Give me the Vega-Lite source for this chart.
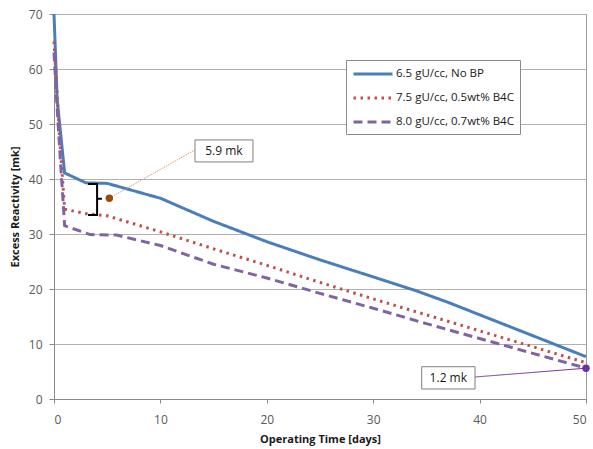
{
  "$schema": "https://vega.github.io/schema/vega-lite/v6.json",
  "width": 532,
  "height": 385,
  "autosize": "none",
  "padding": {"left": 54, "top": 14, "right": 7, "bottom": 50},
  "background": "white",
  "config": {
    "font": "Open Sans",
    "view": {"stroke": "#9a9a9a", "strokeWidth": 1},
    "axis": {
      "labelFont": "Open Sans",
      "labelFontSize": 12,
      "labelColor": "#595959",
      "titleFont": "Open Sans",
      "titleFontSize": 11,
      "titleFontWeight": "bold",
      "titleColor": "#1a1a1a",
      "domainColor": "#8a8a8a",
      "tickColor": "#8a8a8a",
      "tickSize": 5,
      "gridColor": "#b0b0b0",
      "gridWidth": 1
    },
    "legend": {
      "title": null,
      "orient": "none",
      "legendX": 292,
      "legendY": 46,
      "symbolType": "M-1,0H5",
      "symbolSize": 169,
      "symbolStrokeWidth": 3,
      "symbolFillColor": "transparent",
      "labelFont": "Open Sans",
      "labelFontSize": 11.5,
      "labelColor": "#1a1a1a",
      "labelOffset": 28,
      "rowPadding": 10,
      "padding": 6,
      "fillColor": "white",
      "strokeColor": "#8a8a8a"
    }
  },
  "datasets": {
    "curves": [
      {"series": "6.5 gU/cc, No BP", "day": 0, "value": 70},
      {"series": "6.5 gU/cc, No BP", "day": 0.3, "value": 54.4},
      {"series": "6.5 gU/cc, No BP", "day": 1, "value": 41.1},
      {"series": "6.5 gU/cc, No BP", "day": 3, "value": 39.3},
      {"series": "6.5 gU/cc, No BP", "day": 5, "value": 39.2},
      {"series": "6.5 gU/cc, No BP", "day": 10, "value": 36.5},
      {"series": "6.5 gU/cc, No BP", "day": 15, "value": 32.3},
      {"series": "6.5 gU/cc, No BP", "day": 20, "value": 28.6},
      {"series": "6.5 gU/cc, No BP", "day": 25, "value": 25.3},
      {"series": "6.5 gU/cc, No BP", "day": 30, "value": 22.2},
      {"series": "6.5 gU/cc, No BP", "day": 34, "value": 19.7},
      {"series": "6.5 gU/cc, No BP", "day": 37, "value": 17.6},
      {"series": "6.5 gU/cc, No BP", "day": 50, "value": 7.7},
      {"series": "7.5 gU/cc, 0.5wt% B4C", "day": 0, "value": 65},
      {"series": "7.5 gU/cc, 0.5wt% B4C", "day": 0.5, "value": 48.3},
      {"series": "7.5 gU/cc, 0.5wt% B4C", "day": 1, "value": 34.5},
      {"series": "7.5 gU/cc, 0.5wt% B4C", "day": 3, "value": 33.7},
      {"series": "7.5 gU/cc, 0.5wt% B4C", "day": 5, "value": 33.3},
      {"series": "7.5 gU/cc, 0.5wt% B4C", "day": 10, "value": 30.4},
      {"series": "7.5 gU/cc, 0.5wt% B4C", "day": 15, "value": 27.3},
      {"series": "7.5 gU/cc, 0.5wt% B4C", "day": 20, "value": 24.3},
      {"series": "7.5 gU/cc, 0.5wt% B4C", "day": 25, "value": 21.2},
      {"series": "7.5 gU/cc, 0.5wt% B4C", "day": 30, "value": 18.2},
      {"series": "7.5 gU/cc, 0.5wt% B4C", "day": 35, "value": 15.3},
      {"series": "7.5 gU/cc, 0.5wt% B4C", "day": 40, "value": 12.4},
      {"series": "7.5 gU/cc, 0.5wt% B4C", "day": 45, "value": 9.5},
      {"series": "7.5 gU/cc, 0.5wt% B4C", "day": 50, "value": 6.6},
      {"series": "8.0 gU/cc, 0.7wt% B4C", "day": 0, "value": 63},
      {"series": "8.0 gU/cc, 0.7wt% B4C", "day": 0.25, "value": 54.4},
      {"series": "8.0 gU/cc, 0.7wt% B4C", "day": 0.55, "value": 45},
      {"series": "8.0 gU/cc, 0.7wt% B4C", "day": 1, "value": 31.5},
      {"series": "8.0 gU/cc, 0.7wt% B4C", "day": 3.4, "value": 29.9},
      {"series": "8.0 gU/cc, 0.7wt% B4C", "day": 5.9, "value": 29.8},
      {"series": "8.0 gU/cc, 0.7wt% B4C", "day": 10, "value": 27.9},
      {"series": "8.0 gU/cc, 0.7wt% B4C", "day": 15, "value": 24.5},
      {"series": "8.0 gU/cc, 0.7wt% B4C", "day": 20, "value": 22},
      {"series": "8.0 gU/cc, 0.7wt% B4C", "day": 25, "value": 19.2},
      {"series": "8.0 gU/cc, 0.7wt% B4C", "day": 30, "value": 16.5},
      {"series": "8.0 gU/cc, 0.7wt% B4C", "day": 35, "value": 13.7},
      {"series": "8.0 gU/cc, 0.7wt% B4C", "day": 40, "value": 11},
      {"series": "8.0 gU/cc, 0.7wt% B4C", "day": 45, "value": 8.3},
      {"series": "8.0 gU/cc, 0.7wt% B4C", "day": 50, "value": 5.6}
    ],
    "bracket": [
      {"ord": 1, "day": 3.2, "value": 39.1},
      {"ord": 2, "day": 4.05, "value": 39.1},
      {"ord": 3, "day": 4.05, "value": 36.4},
      {"ord": 4, "day": 4.5, "value": 36.4},
      {"ord": 5, "day": 4.05, "value": 36.4},
      {"ord": 6, "day": 4.05, "value": 33.45},
      {"ord": 7, "day": 3.2, "value": 33.45}
    ],
    "callouts": [
      {"label": "5.9 mk", "day": 5.2, "value": 36.5, "boxDay": 13.25, "boxValue": 45.3,
       "x0": 13.25, "x1": 18.7, "y0": 43.1, "y1": 47.1, "cx": 15.97, "cy": 45.1, "color": "#9c4a0a", "lineColor": "#d8a070"},
      {"label": "1.2 mk", "day": 50, "value": 5.6, "boxDay": 39.57, "boxValue": 4.0,
       "x0": 34.56, "x1": 39.57, "y0": 1.82, "y1": 5.87, "cx": 37.06, "cy": 3.85, "color": "#7030a0", "lineColor": "#7030a0"}
    ]
  },
  "layer": [
    {
      "data": {"name": "curves"},
      "mark": {"type": "line", "strokeWidth": 3, "strokeCap": "butt"},
      "encoding": {
        "x": {
          "field": "day", "type": "quantitative",
          "scale": {"domain": [0, 50], "nice": false},
          "axis": {"values": [0, 10, 20, 30, 40, 50], "title": "Operating Time [days]", "grid": false, "tickSize": 4, "labelPadding": 11, "titlePadding": 8}
        },
        "y": {
          "field": "value", "type": "quantitative",
          "scale": {"domain": [0, 70], "nice": false},
          "axis": {"values": [0, 10, 20, 30, 40, 50, 60, 70], "title": "Excess Reactivity [mk]", "grid": true, "labelPadding": 7, "titlePadding": 8}
        },
        "order": {"field": "day", "type": "quantitative"},
        "color": {
          "field": "series", "type": "nominal",
          "scale": {
            "domain": ["6.5 gU/cc, No BP", "7.5 gU/cc, 0.5wt% B4C", "8.0 gU/cc, 0.7wt% B4C"],
            "range": ["#4a7ebb", "#c0504d", "#8064a2"]
          },
          "legend": {"title": null}
        },
        "strokeDash": {
          "field": "series", "type": "nominal",
          "scale": {
            "domain": ["6.5 gU/cc, No BP", "7.5 gU/cc, 0.5wt% B4C", "8.0 gU/cc, 0.7wt% B4C"],
            "range": [[1, 0], [2.5, 4.5], [9, 5]]
          },
          "legend": {"title": null}
        }
      }
    },
    {
      "data": {"name": "bracket"},
      "mark": {"type": "line", "color": "black", "strokeWidth": 2, "strokeJoin": "miter"},
      "encoding": {
        "x": {"field": "day", "type": "quantitative"},
        "y": {"field": "value", "type": "quantitative"},
        "order": {"field": "ord", "type": "quantitative"}
      }
    },
    {
      "data": {"name": "callouts"},
      "mark": {"type": "rule", "strokeWidth": 1},
      "encoding": {
        "x": {"field": "day", "type": "quantitative"},
        "y": {"field": "value", "type": "quantitative"},
        "x2": {"field": "boxDay"},
        "y2": {"field": "boxValue"},
        "color": {"field": "lineColor", "type": "nominal", "scale": null},
        "strokeDash": {"condition": {"test": "datum.label === '5.9 mk'", "value": [1.5, 1]}, "value": [1, 0]}
      }
    },
    {
      "data": {"name": "callouts"},
      "mark": {"type": "point", "filled": true, "size": 55, "opacity": 1},
      "encoding": {
        "x": {"field": "day", "type": "quantitative"},
        "y": {"field": "value", "type": "quantitative"},
        "color": {"field": "color", "type": "nominal", "scale": null}
      }
    },
    {
      "data": {"name": "callouts"},
      "mark": {"type": "rect", "fill": "white", "stroke": "#7f7f7f", "strokeWidth": 1},
      "encoding": {
        "x": {"field": "x0", "type": "quantitative"},
        "x2": {"field": "x1"},
        "y": {"field": "y0", "type": "quantitative"},
        "y2": {"field": "y1"}
      }
    },
    {
      "data": {"name": "callouts"},
      "mark": {"type": "text", "font": "Open Sans", "fontSize": 12, "color": "#1a1a1a", "align": "center", "baseline": "middle"},
      "encoding": {
        "x": {"field": "cx", "type": "quantitative"},
        "y": {"field": "cy", "type": "quantitative"},
        "text": {"field": "label"}
      }
    }
  ]
}
